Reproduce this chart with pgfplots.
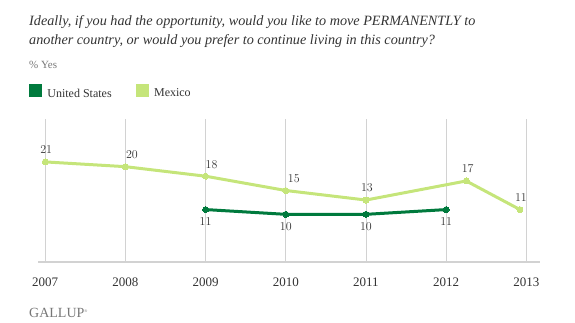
\documentclass[border=0pt]{standalone}
\usepackage{pgfplots}
\pgfplotsset{compat=1.18}
\usepackage{fontspec}
\setmainfont{Liberation Serif}
\definecolor{usgreen}{HTML}{007A3D}
\definecolor{mxgreen}{HTML}{C5E57A}
\definecolor{gridgray}{HTML}{D2D2D2}
\definecolor{txt}{HTML}{333333}
\definecolor{subgray}{HTML}{777777}

\pgfplotstableread{
x       y   dx
2007    21  1
2008    20  6.5
2009    18  6
2010    15  8
2011    13  1
2012.25 17  1.5
2012.92 11  1
}\mexico

\pgfplotstableread{
x     y   dx
2009  11  0
2010  10  0
2011  10  0
2012  11  0
}\usa

\begin{document}
\begin{tikzpicture}[x=1pt,y=1pt]
\path[use as bounding box] (0,0) rectangle (575,322);
\node[anchor=base west, inner sep=0pt, text=txt, font=\fontsize{14.2}{16}\selectfont\itshape] at (29,296) {Ideally, if you had the opportunity, would you like to move PERMANENTLY to};
\node[anchor=base west, inner sep=0pt, text=txt, font=\fontsize{14.2}{16}\selectfont\itshape] at (29,277) {another country, or would you prefer to continue living in this country?};
\node[anchor=base west, inner sep=0pt, text=subgray, font=\fontsize{11}{12}\selectfont] at (29,254) {\% Yes};
\node[anchor=base west, inner sep=0pt, text=subgray, font=\fontsize{14}{14}\selectfont] at (29,5) {GALLUP\raisebox{5pt}{\fontsize{4}{4}\selectfont\textregistered}};

\begin{axis}[
  at={(38pt,60pt)}, anchor=south west,
  scale only axis, width=502pt, height=143pt,
  xmin=2006.91, xmax=2013.17, ymin=0, ymax=30,
  axis x line*=bottom, axis y line=none,
  x axis line style={draw=gridgray, line width=2pt, -},
  major tick length=0pt,
  xtick={2007,2008,2009,2010,2011,2012,2013},
  xticklabels={2007,2008,2009,2010,2011,2012,2013},
  xticklabel style={anchor=base, yshift=-24pt, text=txt, font=\fontsize{13}{14}\selectfont},
  ytick=\empty,
  xmajorgrids,
  major grid style={draw=gridgray, line width=0.9pt},
  clip=false,
  legend columns=2,
  legend style={draw=none, fill=none, inner sep=0pt, outer sep=0pt,
    at={(axis description cs:-0.018,1.192)}, anchor=west,
    nodes={inner sep=0pt, text=txt, font=\fontsize{12}{13}\selectfont},
    column sep=6pt,
    /tikz/every even column/.append style={column sep=24pt}},
  legend cell align=left,
]
\addlegendimage{legend image code/.code={\fill[usgreen] (0pt,-3pt) rectangle (12pt,9pt);}}
\addlegendentry{United States}
\addlegendimage{legend image code/.code={\fill[mxgreen] (0pt,-3pt) rectangle (12pt,9pt);}}
\addlegendentry{Mexico}

\addplot[forget plot, color=mxgreen, line width=3pt, line join=round, mark=*, mark size=3pt,
  mark options={line width=0pt},
  visualization depends on={\thisrow{dx}\as\dx},
  nodes near coords={\pgfmathprintnumber[fixed,precision=0]{\pgfplotspointmeta}},
  every node near coord/.append style={anchor=center, yshift=12pt, xshift=\dx pt, text=txt, font=\fontsize{11.5}{12}\selectfont}]
  table[x=x,y=y]{\mexico};

\addplot[forget plot, color=usgreen, line width=3pt, line join=round, mark=*, mark size=3pt,
  mark options={line width=0pt},
  visualization depends on={\thisrow{dx}\as\dx},
  nodes near coords={\pgfmathprintnumber[fixed,precision=0]{\pgfplotspointmeta}},
  every node near coord/.append style={anchor=center, yshift=-12pt, xshift=\dx pt, text=txt, font=\fontsize{11.5}{12}\selectfont}]
  table[x=x,y=y]{\usa};
\end{axis}
\end{tikzpicture}
\end{document}
